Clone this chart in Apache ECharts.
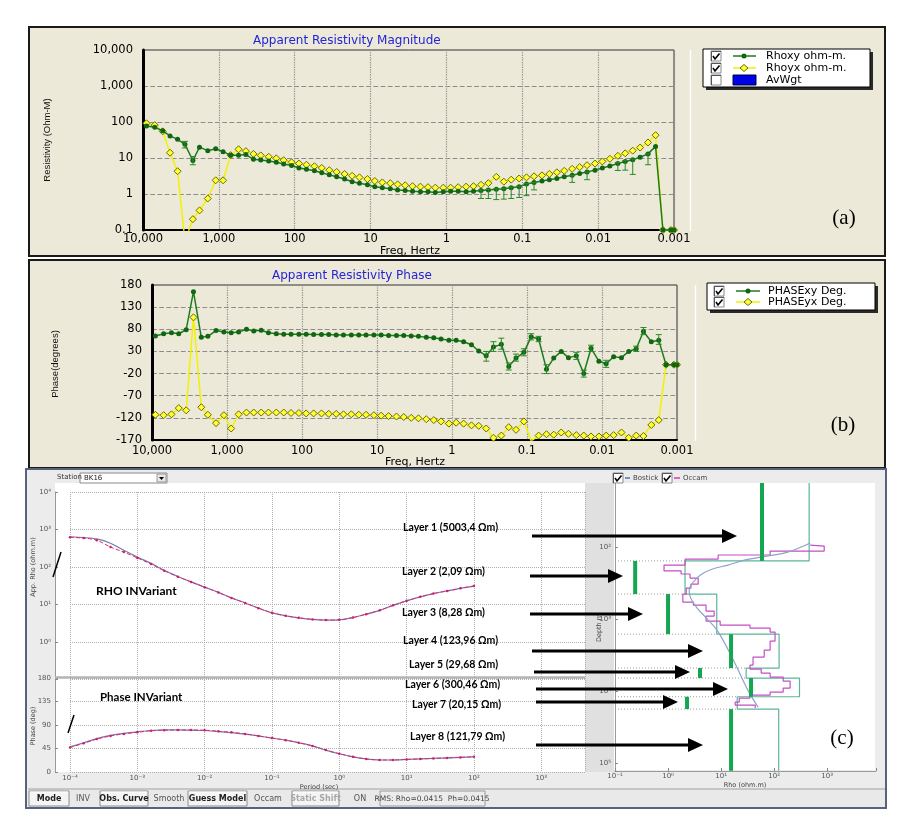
<!DOCTYPE html>
<html>
<head>
<meta charset="utf-8">
<script src="https://cdn.jsdelivr.net/npm/echarts@6/dist/echarts.min.js"></script>
<style>
  html, body { margin: 0; padding: 0; background: #ffffff; }
  #main { width: 904px; height: 828px; }
</style>
</head>
<body>
<div id="main"></div>
<script>
// ---- panel (a) / (b): MT sounding, frequency in Hz ----
const freqHz = [
  9000, 7000, 5500, 4400, 3500, 2800, 2200, 1800, 1400, 1100,
  880, 700, 550, 440, 350, 280, 220, 175, 140, 110,
  88, 70, 55, 44, 35, 28, 22, 17.5, 14, 11,
  8.8, 7, 5.5, 4.4, 3.5, 2.8, 2.2, 1.75, 1.4, 1.1,
  0.88, 0.7, 0.55, 0.44, 0.35, 0.28, 0.22, 0.175, 0.14, 0.11,
  0.088, 0.07, 0.055, 0.044, 0.035, 0.028, 0.022, 0.0175, 0.014, 0.011,
  0.0088, 0.007, 0.0055, 0.0044, 0.0035, 0.0028, 0.0022, 0.00175, 0.0014, 0.0011,
  0.001
];
const rhoxy = [
  77, 71, 57, 41, 33, 24, 8.5, 20, 16, 18,
  15, 12, 12, 12.5, 9.2, 8.8, 8.2, 7.6, 6.8, 6.2,
  5.3, 4.9, 4.4, 3.9, 3.4, 3.0, 2.6, 2.2, 2.0, 1.8,
  1.6, 1.5, 1.4, 1.3, 1.25, 1.2, 1.15, 1.15, 1.1, 1.15,
  1.2, 1.2, 1.15, 1.2, 1.25, 1.3, 1.35, 1.4, 1.5, 1.6,
  1.9, 2.1, 2.3, 2.5, 2.7, 3.0, 3.3, 3.7, 4.1, 4.6,
  5.3, 6.0, 7.0, 8.0, 9.0, 10.5, 13, 21, 0.1, 0.1,
  0.1
];
const rhoyx = [
  92, 82, 55, 14, 4.3, 0.05, 0.2, 0.35, 0.75, 2.4,
  2.4, 12, 17.5, 15.5, 13, 11.8, 10.8, 9.8, 8.7, 7.6,
  7.0, 6.5, 5.9, 5.3, 4.6, 4.1, 3.6, 3.2, 2.9, 2.6,
  2.3, 2.1, 2.0, 1.85, 1.75, 1.65, 1.6, 1.55, 1.5, 1.5,
  1.5, 1.55, 1.6, 1.65, 1.8, 2.0, 3.0, 2.2, 2.5, 2.7,
  2.9, 3.1, 3.3, 3.6, 4.0, 4.4, 5.0, 5.6, 6.3, 7.0,
  8, 9.5, 11.5, 13.5, 16, 19.5, 27, 43, 0.1, 0.1,
  0.1
];
// [freq, low, high]
const rhoxyErr = [
  [2800, 19, 29], [2200, 6.5, 11], [0.35, 0.75, 1.3], [0.28, 0.75, 1.35],
  [0.22, 0.7, 1.4], [0.175, 0.72, 1.45], [0.14, 0.75, 1.55], [0.11, 0.8, 1.65],
  [0.088, 0.9, 1.95], [0.07, 1.3, 2.1], [0.022, 2.1, 3.3], [0.014, 2.5, 4.1],
  [0.0055, 4.5, 7.5], [0.0044, 4.6, 8.5], [0.0035, 3.5, 9.5], [0.0022, 6.5, 13]
];
const phasexy = [
  65, 70, 72, 70, 79, 165, 62, 64, 77, 74,
  72, 74, 80, 76, 78, 72, 70, 69, 69, 69,
  69, 68, 68, 68, 67, 67, 67, 67, 67, 67,
  67, 66, 66, 66, 65, 64, 62, 61, 58, 55,
  55, 52, 45, 31, 20, 40, 46, -4, 15, 28,
  63, 58, -10, 15, 30, 16, 20, -20, 37, 8,
  2, 18, 16, 30, 36, 75, 52, 55, 0, 0,
  0
];
const phaseyx = [
  -113, -114, -112, -98, -103, 107, -96, -113, -132, -114,
  -144, -112, -108, -108, -108, -108, -108, -108, -109, -109,
  -110, -110, -110, -111, -111, -112, -112, -113, -113, -114,
  -115, -116, -117, -118, -120, -121, -123, -125, -128, -133,
  -131, -133, -137, -138, -144, -165, -160, -141, -147, -128,
  -172, -160, -157, -158, -153, -156, -159, -160, -162, -162,
  -160, -159, -153, -165, -160, -161, -136, -125, 0, 0,
  0
];
const phasexyErr = [
  [0.35, 8, 30], [0.28, 30, 52], [0.22, 35, 60], [0.175, -12, 4], [0.14, 8, 24],
  [0.11, 20, 36], [0.088, 56, 70], [0.07, 52, 64], [0.055, -20, 0], [0.022, 12, 28],
  [0.0175, -28, -12], [0.014, 30, 44], [0.0088, -6, 10], [0.0035, 30, 42],
  [0.0028, 68, 84], [0.00175, 46, 68]
];
const freqTickLabels = ['0.001', '0.01', '0.1', '1', '10', '100', '1,000', '10,000'];
const resTickLabels = ['0.1', '1', '10', '100', '1,000', '10,000'];

// ---- panel (c): invariant curves vs period (s) ----
const invPeriod = [
  1e-4, 1.6e-4, 2.5e-4, 4e-4, 6.3e-4, 1e-3, 1.6e-3, 2.5e-3, 4e-3, 6.3e-3,
  1e-2, 1.6e-2, 2.5e-2, 4e-2, 6.3e-2, 0.1, 0.16, 0.25, 0.4, 0.63,
  1, 1.6, 2.5, 4, 6.3, 10, 16, 25, 40, 63, 100
];
const rhoInvObs = [
  620, 590, 520, 340, 250, 175, 120, 80, 55, 40,
  29, 21, 15, 11, 8, 6.0, 5.0, 4.4, 4.0, 3.85,
  3.9, 4.5, 5.5, 7, 9.5, 12.5, 16, 19.5, 23, 27, 31
];
const rhoInvModel = [
  640, 610, 560, 430, 280, 185, 125, 82, 56, 40,
  29, 21, 15, 11, 8, 6.0, 5.0, 4.4, 4.0, 3.85,
  3.9, 4.5, 5.5, 7, 9.5, 12.5, 16, 19.5, 23, 27, 31
];
const phaseInvObs = [
  47, 55, 63, 69, 73, 76, 79, 80, 80.5, 80.5,
  80, 78, 76, 73, 69, 65, 61, 56, 50, 42,
  35, 29, 25, 23, 23, 24, 25, 26, 27, 28, 29
];
const phaseInvModel = [
  48, 56, 64, 70, 74, 77, 79.5, 80.5, 80.5, 80,
  79.5, 77.5, 75.5, 72.5, 69, 65, 61, 56, 50, 42,
  35, 29, 25, 23, 23, 24, 25, 26, 27, 28, 29
];

// ---- panel (c): 1D layered model vs depth (m) ----
const layerRho = [457, 2.09, 8.28, 123.96, 29.68, 300.46, 20.15, 121.79];
const layerTop = [12.9, 156, 450, 1620, 4790, 6600, 12000, 17800];
const modelBottom = 128000;
const greenBarRho = [59, 0.24, 1.0, 15.4, 4.0, 36.7, 2.28, 15.4];
const layerLabels = [
  'Layer 1 (5003,4 Ωm)', 'Layer 2 (2,09 Ωm)', 'Layer 3 (8,28 Ωm)', 'Layer 4 (123,96 Ωm)',
  'Layer 5 (29,68 Ωm)', 'Layer 6 (300,46 Ωm)', 'Layer 7 (20,15 Ωm)', 'Layer 8 (121,79 Ωm)'
];
// Occam smooth inversion: [rho, top depth]
const occamRho = [
  478, 878, 84, 8.8, 2.1, 0.84, 1.76, 2.6, 3.7, 2.7,
  2.2, 1.9, 3.0, 5.2, 7.4, 5.2, 9.6, 35, 84, 104,
  84, 65, 40, 35, 57, 84, 148, 200, 148, 84,
  35, 22, 18.4, 44, 44
];
const occamDepth = [
  94, 97, 114, 129, 147, 178, 215, 237, 270, 327,
  371, 450, 581, 640, 775, 909, 1066, 1212, 1334, 1516,
  2021, 2697, 3373, 4355, 4946, 5623, 6393, 7268, 9085, 10320,
  11370, 12510, 14220, 15640, 17210
];
const bostickRho = [478, 180, 77, 30, 13.5, 6.5, 4.2, 3.0, 2.5, 2.7, 3.5, 5.2, 8.5, 17, 32, 50];
const bostickDepth = [88, 118, 133, 150, 178, 205, 240, 306, 400, 520, 700, 960, 1450, 3700, 9700, 16800];

const supDigits = { '-': '⁻', '0': '⁰', '1': '¹', '2': '²', '3': '³', '4': '⁴', '5': '⁵' };
function pow10Label(v) {
  return '10' + String(Math.round(v)).split('').map(c => supDigits[c]).join('');
}
const lg = v => Math.log10(v);

const FONT = '"DejaVu Sans", Verdana, sans-serif';
const BEIGE = '#ece9d8';

var chart = echarts.init(document.getElementById('main'));

// error bar drawn through the axes
function errBar(color) {
  return function (params, api) {
    const x = api.value(0);
    const a = api.coord([x, api.value(1)]);
    const b = api.coord([x, api.value(2)]);
    const st = { stroke: color, lineWidth: 1 };
    return {
      type: 'group', children: [
        { type: 'line', shape: { x1: a[0], y1: a[1], x2: b[0], y2: b[1] }, style: st },
        { type: 'line', shape: { x1: a[0] - 3, y1: a[1], x2: a[0] + 3, y2: a[1] }, style: st },
        { type: 'line', shape: { x1: b[0] - 3, y1: b[1], x2: b[0] + 3, y2: b[1] }, style: st }
      ]
    };
  };
}

// ---------- graphic helpers ----------
var g = [];
function rect(x, y, w, h, fill, stroke, lw, z) {
  g.push({ type: 'rect', z: z == null ? -10 : z, shape: { x: x, y: y, width: w, height: h },
    style: { fill: fill, stroke: stroke || null, lineWidth: lw || 0 } });
}
function line(x1, y1, x2, y2, color, w, z, dash) {
  g.push({ type: 'line', z: z == null ? 50 : z, shape: { x1: x1, y1: y1, x2: x2, y2: y2 },
    style: { stroke: color, lineWidth: w, lineDash: dash || null } });
}
function text(x, y, s, o) {
  o = o || {};
  g.push({ type: 'text', z: o.z == null ? 60 : o.z, x: x, y: y, rotation: o.rot || 0,
    style: { text: s, fill: o.color || '#000', fontSize: o.size || 12, fontFamily: o.family || FONT,
      fontWeight: o.weight || 'normal', align: o.align || 'left', verticalAlign: o.va || 'middle' } });
}
function checkbox(x, y, checked) {
  rect(x, y, 10, 10, '#fff', '#8a8a8a', 1, 55);
  line(x + 0.5, y + 0.5, x + 10, y + 0.5, '#555', 1, 56);
  line(x + 0.5, y + 0.5, x + 0.5, y + 10, '#555', 1, 56);
  if (checked) {
    g.push({ type: 'polyline', z: 57, shape: { points: [[x + 2, y + 5], [x + 4, y + 8], [x + 8.5, y + 2.5]] },
      style: { stroke: '#000', lineWidth: 1.6, fill: null } });
  }
}
function arrow(x1, y, tip) {
  line(x1, y, tip - 12, y, '#000', 3.2, 90);
  g.push({ type: 'polygon', z: 90, shape: { points: [[tip, y], [tip - 15, y - 7], [tip - 15, y + 7]] },
    style: { fill: '#000' } });
}
function button(x, w, label, bold, disabled) {
  rect(x, 791, w, 15, '#f4f4f4', '#8c8c8c', 1, 40);
  line(x + 1, 792, x + w - 1, 792, '#fff', 1, 41);
  text(x + w / 2, 799, label, { size: 8, weight: bold ? 'bold' : 'normal', align: 'center',
    color: disabled ? '#a8a8a8' : '#222' });
}

// panel (a)
rect(29, 27, 856, 229, BEIGE, '#1a1a1a', 2);
text(253, 41, 'Apparent Resistivity Magnitude', { color: '#2323d8', size: 12 });
text(47, 140, 'Resistivity (Ohm-M)', { rot: Math.PI / 2, align: 'center', size: 9.5,
  family: '"Liberation Sans Narrow", "Liberation Sans", sans-serif', color: '#111' });
text(410, 251, 'Freq, Hertz', { align: 'center', size: 11 });
line(690.5, 50, 690.5, 231, '#ffffff', 1.5, 5);
rect(706, 52, 167, 38, '#2a2a2a', null, 0, 50);
rect(703, 49, 167, 38, '#ffffff', '#000', 1, 51);
checkbox(711, 51, true); checkbox(711, 63, true); checkbox(711, 75, false);
line(733, 56, 756, 56, '#1e7a1e', 1.5, 55);
g.push({ type: 'circle', z: 56, shape: { cx: 744, cy: 56, r: 2.5 }, style: { fill: '#116611' } });
line(733, 68, 756, 68, '#f2f200', 1.5, 55);
g.push({ type: 'polygon', z: 56, shape: { points: [[744, 64.5], [748, 68], [744, 71.5], [740, 68]] },
  style: { fill: '#ffff33', stroke: '#6b6b00', lineWidth: 1 } });
rect(733, 75, 23, 10, '#0000e6', '#000044', 1, 55);
text(766, 56, 'Rhoxy ohm-m.', { z: 58, size: 11 });
text(766, 68, 'Rhoyx ohm-m.', { z: 58, size: 11 });
text(766, 80, 'AvWgt', { z: 58, size: 11 });
text(844, 218, '(a)', { align: 'center', size: 21, family: '"Liberation Serif", serif' });

// panel (b)
rect(29, 260, 856, 208, BEIGE, '#1a1a1a', 2);
text(272, 276, 'Apparent Resistivity Phase', { color: '#2323d8', size: 12 });
text(55, 364, 'Phase(degrees)', { rot: Math.PI / 2, align: 'center', size: 9.5,
  family: '"Liberation Sans Narrow", "Liberation Sans", sans-serif', color: '#111' });
text(415, 462, 'Freq, Hertz', { align: 'center', size: 11 });
line(695.5, 285, 695.5, 441, '#ffffff', 1.5, 5);
rect(710, 286, 168, 27, '#2a2a2a', null, 0, 50);
rect(707, 283, 168, 27, '#ffffff', '#000', 1, 51);
checkbox(714, 286, true); checkbox(714, 297, true);
line(736, 291, 760, 291, '#1e7a1e', 1.5, 55);
g.push({ type: 'circle', z: 56, shape: { cx: 748, cy: 291, r: 2.5 }, style: { fill: '#116611' } });
line(736, 302, 760, 302, '#f2f200', 1.5, 55);
g.push({ type: 'polygon', z: 56, shape: { points: [[748, 298.5], [752, 302], [748, 305.5], [744, 302]] },
  style: { fill: '#ffff33', stroke: '#6b6b00', lineWidth: 1 } });
text(768, 291, 'PHASExy Deg.', { z: 58, size: 11 });
text(768, 302, 'PHASEyx Deg.', { z: 58, size: 11 });
text(843, 425, '(b)', { align: 'center', size: 21, family: '"Liberation Serif", serif' });

// panel (c) frame
rect(26, 469, 860, 339, '#ececec', '#56627e', 2);
rect(55, 483, 530, 289, '#ffffff', null, 0);
rect(585, 483, 29, 289, '#e0e0e0', null, 0);
rect(614, 483, 261, 287, '#ffffff', null, 0);
line(55, 677.5, 585, 677.5, '#b4b4b4', 2.5, 20);
text(57, 477.5, 'Station', { size: 7, color: '#333' });
rect(80, 473, 87, 10, '#fff', '#8a8a8a', 1, 30);
text(84, 478, 'BK16', { size: 7, color: '#222' });
rect(157, 474, 9, 8, '#e8e8e8', '#999', 1, 31);
g.push({ type: 'polygon', z: 32, shape: { points: [[159, 477], [164, 477], [161.5, 480]] }, style: { fill: '#000' } });
text(33, 567, 'App. Rho (ohm.m)', { rot: Math.PI / 2, align: 'center', size: 6.5, color: '#444' });
text(33, 726, 'Phase (deg)', { rot: Math.PI / 2, align: 'center', size: 6.5, color: '#444' });
text(319, 787, 'Period (sec)', { align: 'center', size: 6.5, color: '#444' });
text(599, 628, 'Depth m', { rot: Math.PI / 2, align: 'center', size: 6.5, color: '#444' });
text(745, 785, 'Rho (ohm.m)', { align: 'center', size: 6.5, color: '#444' });
checkbox(613, 473, true);
line(625, 478, 630, 478, '#5a6fb0', 1.5, 55);
text(633, 478, 'Bostick', { size: 7, color: '#444' });
checkbox(662, 473, true);
line(674, 478, 680, 478, '#d03bb0', 1.5, 55);
text(683, 478, 'Occam', { size: 7, color: '#444' });
text(96, 591, 'RHO INVariant', { size: 12, weight: 'bold', family: 'Lato, "Open Sans", sans-serif', z: 80 });
text(100, 697, 'Phase INVariant', { size: 11.5, weight: 'bold', family: 'Lato, "Open Sans", sans-serif', z: 80 });
line(61, 552, 53, 577, '#000', 1.5, 80);
line(74, 715, 68, 733, '#000', 1.5, 80);
text(842, 738, '(c)', { align: 'center', size: 21, family: '"Liberation Serif", serif', z: 80 });

// layer annotations
const labelPos = [[403, 528], [402, 572], [402, 613], [403, 641], [409, 665], [405, 685], [412, 705], [410, 737]];
const arrowPos = [[532, 536, 737], [530, 576, 623], [530, 614, 643], [532, 651, 703],
  [534, 672, 690], [536, 689, 728], [536, 702, 678], [536, 745, 703]];
layerLabels.forEach(function (s, i) {
  text(labelPos[i][0], labelPos[i][1], s, { size: 10.5, weight: 'bold', family: 'Lato, "Open Sans", sans-serif', z: 95 });
  arrow(arrowPos[i][0], arrowPos[i][1], arrowPos[i][2]);
});

// bottom button bar
rect(28, 789, 857, 18, '#e9e9e9', null, 0, 30);
line(28, 789, 885, 789, '#a0a0a0', 1, 31);
button(29, 40, 'Mode', true);
text(83, 799, 'INV', { size: 8, align: 'center', color: '#555' });
button(100, 48, 'Obs. Curve', true);
text(169, 799, 'Smooth', { size: 8, align: 'center', color: '#555' });
button(188, 59, 'Guess Model', true);
text(268, 799, 'Occam', { size: 8, align: 'center', color: '#555' });
button(292, 47, 'Static Shift', true, true);
text(360, 799, 'ON', { size: 8, align: 'center', color: '#555' });
rect(380, 791, 105, 15, '#ececec', '#9a9a9a', 1, 40);
text(432, 799, 'RMS: Rho=0.0415  Ph=0.0415', { size: 7.5, align: 'center', color: '#444' });

// ---------- axes ----------
const smallLbl = { fontSize: 7, color: '#555', fontFamily: FONT };
function freqAxis(gi, labelMargin) {
  return {
    gridIndex: gi, type: 'value', min: -3, max: 4, interval: 1, inverse: true,
    axisLine: { onZero: false, lineStyle: { color: '#000', width: 2 } },
    axisTick: { show: false },
    axisLabel: { formatter: v => freqTickLabels[Math.round(v) + 3], color: '#000', fontSize: 11.5,
      fontFamily: FONT, margin: labelMargin },
    splitLine: { show: true, lineStyle: { type: 'dotted', color: '#8c8c8c', width: 1.2 } }
  };
}
var option = {
  animation: false,
  backgroundColor: '#ffffff',
  graphic: { elements: g },
  grid: [
    { left: 143, top: 50, width: 531, height: 180, show: true, borderColor: '#333', borderWidth: 1 },
    { left: 152, top: 285, width: 525, height: 155, show: true, borderColor: '#333', borderWidth: 1 },
    { left: 70, top: 492, width: 515, height: 187.5 },
    { left: 70, top: 678, width: 515, height: 94 },
    { left: 615, top: 475, width: 261, height: 296 }
  ],
  xAxis: [
    freqAxis(0, 3),
    freqAxis(1, 5),
    {
      gridIndex: 2, type: 'value', min: -4, max: 3.65, interval: 1,
      axisLine: { show: false, onZero: false }, axisTick: { show: false }, axisLabel: { show: false },
      splitLine: { show: true, lineStyle: { type: 'dotted', color: '#b0b0b0' } }
    },
    {
      gridIndex: 3, type: 'value', min: -4, max: 3.65, interval: 1,
      axisLine: { show: false, onZero: false }, axisTick: { show: false },
      axisLabel: Object.assign({ formatter: v => (Math.abs(v - Math.round(v)) < 1e-6 ? pow10Label(v) : ''), margin: 3 }, smallLbl),
      splitLine: { show: true, lineStyle: { type: 'dotted', color: '#b0b0b0' } }
    },
    {
      gridIndex: 4, type: 'value', min: -1, max: 3.92, interval: 1,
      axisLine: { onZero: false, lineStyle: { color: '#999' } },
      axisTick: { show: true, inside: true, length: 3, lineStyle: { color: '#888' } },
      axisLabel: Object.assign({ formatter: v => (Math.abs(v - Math.round(v)) < 1e-6 ? pow10Label(v) : ''), margin: 2 }, smallLbl),
      splitLine: { show: false }
    }
  ],
  yAxis: [
    {
      gridIndex: 0, type: 'value', min: -1, max: 4, interval: 1,
      axisLine: { show: true, onZero: false, lineStyle: { color: '#000', width: 3 } },
      axisTick: { show: false },
      axisLabel: { formatter: v => resTickLabels[Math.round(v) + 1], color: '#000', fontSize: 11.5,
        fontFamily: FONT, margin: 10 },
      splitLine: { show: true, lineStyle: { type: 'dashed', color: '#8c8c8c', width: 1.2 } }
    },
    {
      gridIndex: 1, type: 'value', min: -170, max: 180, interval: 50,
      axisLine: { show: true, onZero: false, lineStyle: { color: '#000', width: 3 } },
      axisTick: { show: false },
      axisLabel: { color: '#000', fontSize: 11.5, fontFamily: FONT, margin: 10 },
      splitLine: { show: true, lineStyle: { type: 'dashed', color: '#8c8c8c', width: 1.2 } }
    },
    {
      gridIndex: 2, type: 'value', min: -1, max: 4, interval: 1, offset: 15,
      axisLine: { show: true, onZero: false, lineStyle: { color: '#999' } },
      axisTick: { show: true, inside: true, length: 3, lineStyle: { color: '#888' } },
      axisLabel: Object.assign({ formatter: v => (Math.round(v) === -1 ? '' : pow10Label(v)), margin: 4 }, smallLbl),
      splitLine: { show: true, lineStyle: { type: 'dotted', color: '#b0b0b0' } }
    },
    {
      gridIndex: 3, type: 'value', min: 0, max: 180, interval: 45, offset: 15,
      axisLine: { show: true, onZero: false, lineStyle: { color: '#999' } },
      axisTick: { show: true, inside: true, length: 3, lineStyle: { color: '#888' } },
      axisLabel: Object.assign({ margin: 4 }, smallLbl),
      splitLine: { show: true, lineStyle: { type: 'dotted', color: '#b0b0b0' } }
    },
    {
      gridIndex: 4, type: 'value', min: 1, max: 5.11, interval: 1, inverse: true,
      axisLine: { show: true, onZero: false, lineStyle: { color: '#999' } },
      axisTick: { show: true, inside: true, length: 3, lineStyle: { color: '#888' } },
      axisLabel: Object.assign({ formatter: v => (Math.abs(v - Math.round(v)) < 1e-6 && Math.round(v) > 1 ? pow10Label(v) : ''), margin: 4 }, smallLbl),
      splitLine: { show: false }
    }
  ],
  series: [
    // (a)
    {
      name: 'Rhoyx ohm-m.', type: 'line', xAxisIndex: 0, yAxisIndex: 0, z: 3,
      data: freqHz.map((f, i) => [lg(f), lg(rhoyx[i])]),
      symbol: 'diamond', symbolSize: 7,
      lineStyle: { color: '#f2f200', width: 1.5 },
      itemStyle: { color: '#ffff33', borderColor: '#6b6b00', borderWidth: 1 }
    },
    {
      name: 'Rhoxy ohm-m.', type: 'line', xAxisIndex: 0, yAxisIndex: 0, z: 4,
      data: freqHz.map((f, i) => [lg(f), lg(rhoxy[i])]),
      symbol: 'circle', symbolSize: 5,
      lineStyle: { color: '#1e7a1e', width: 1.5 },
      itemStyle: { color: '#116611' }
    },
    {
      type: 'custom', xAxisIndex: 0, yAxisIndex: 0, z: 5, clip: true,
      renderItem: errBar('#2a8a2a'),
      data: rhoxyErr.map(d => [lg(d[0]), lg(d[1]), lg(d[2])])
    },
    // (b)
    {
      name: 'PHASEyx Deg.', type: 'line', xAxisIndex: 1, yAxisIndex: 1, z: 3,
      data: freqHz.map((f, i) => [lg(f), phaseyx[i]]),
      symbol: 'diamond', symbolSize: 7,
      lineStyle: { color: '#f2f200', width: 1.5 },
      itemStyle: { color: '#ffff33', borderColor: '#6b6b00', borderWidth: 1 }
    },
    {
      name: 'PHASExy Deg.', type: 'line', xAxisIndex: 1, yAxisIndex: 1, z: 4,
      data: freqHz.map((f, i) => [lg(f), phasexy[i]]),
      symbol: 'circle', symbolSize: 5,
      lineStyle: { color: '#1e7a1e', width: 1.5 },
      itemStyle: { color: '#116611' }
    },
    {
      type: 'custom', xAxisIndex: 1, yAxisIndex: 1, z: 5, clip: true,
      renderItem: errBar('#2a8a2a'),
      data: phasexyErr.map(d => [lg(d[0]), d[1], d[2]])
    },
    // (c) rho invariant
    {
      type: 'line', xAxisIndex: 2, yAxisIndex: 2, z: 3, smooth: 0.3,
      data: invPeriod.map((p, i) => [lg(p), lg(rhoInvModel[i])]),
      symbol: 'none', lineStyle: { color: '#6f7fa8', width: 1.2 }
    },
    {
      type: 'line', xAxisIndex: 2, yAxisIndex: 2, z: 4, smooth: 0.3,
      data: invPeriod.map((p, i) => [lg(p), lg(rhoInvObs[i])]),
      symbol: 'circle', symbolSize: 2.5,
      lineStyle: { color: '#e0287a', width: 1, type: 'dashed' },
      itemStyle: { color: '#d01f6c' }
    },
    // (c) phase invariant
    {
      type: 'line', xAxisIndex: 3, yAxisIndex: 3, z: 3, smooth: 0.3,
      data: invPeriod.map((p, i) => [lg(p), phaseInvModel[i]]),
      symbol: 'none', lineStyle: { color: '#6f7fa8', width: 1.2 }
    },
    {
      type: 'line', xAxisIndex: 3, yAxisIndex: 3, z: 4, smooth: 0.3,
      data: invPeriod.map((p, i) => [lg(p), phaseInvObs[i]]),
      symbol: 'circle', symbolSize: 2.5,
      lineStyle: { color: '#e0287a', width: 1, type: 'dashed' },
      itemStyle: { color: '#d01f6c' }
    },
    // (c) depth model: layer boundaries (dotted)
    {
      type: 'custom', xAxisIndex: 4, yAxisIndex: 4, z: 2,
      renderItem: function (params, api) {
        const p1 = api.coord([-1, api.value(1)]);
        const p2 = api.coord([api.value(0), api.value(1)]);
        return { type: 'line', shape: { x1: p1[0], y1: p1[1], x2: p2[0], y2: p2[1] },
          style: { stroke: '#9a9a9a', lineWidth: 1, lineDash: [1, 2] } };
      },
      data: layerTop.slice(1).map((d, i) => [lg(Math.min(layerRho[i], layerRho[i + 1])), lg(d)])
    },
    {
      type: 'line', xAxisIndex: 4, yAxisIndex: 4, z: 3, step: 'start',
      data: layerRho.map((r, i) => [lg(r), lg(layerTop[i])]).concat([[lg(layerRho[7]), lg(modelBottom)]]),
      symbol: 'none', lineStyle: { color: '#5bb59a', width: 1.2 }
    },
    {
      type: 'line', xAxisIndex: 4, yAxisIndex: 4, z: 4, step: 'start',
      data: occamRho.map((r, i) => [lg(r), lg(occamDepth[i])]),
      symbol: 'none', lineStyle: { color: '#c44fc4', width: 1.2 }
    },
    {
      type: 'line', xAxisIndex: 4, yAxisIndex: 4, z: 5, smooth: 0.4,
      data: bostickRho.map((r, i) => [lg(r), lg(bostickDepth[i])]),
      symbol: 'none', lineStyle: { color: '#8ea3c8', width: 1.2 }
    },
    {
      type: 'custom', xAxisIndex: 4, yAxisIndex: 4, z: 6,
      renderItem: function (params, api) {
        const a = api.coord([api.value(0), api.value(1)]);
        const b = api.coord([api.value(0), api.value(2)]);
        return { type: 'line', shape: { x1: a[0], y1: a[1], x2: b[0], y2: b[1] },
          style: { stroke: '#14a650', lineWidth: 4 } };
      },
      data: greenBarRho.map((r, i) => [lg(r), lg(layerTop[i]), lg(i < 7 ? layerTop[i + 1] : modelBottom)])
    }
  ]
};
chart.setOption(option);
</script>
</body>
</html>
